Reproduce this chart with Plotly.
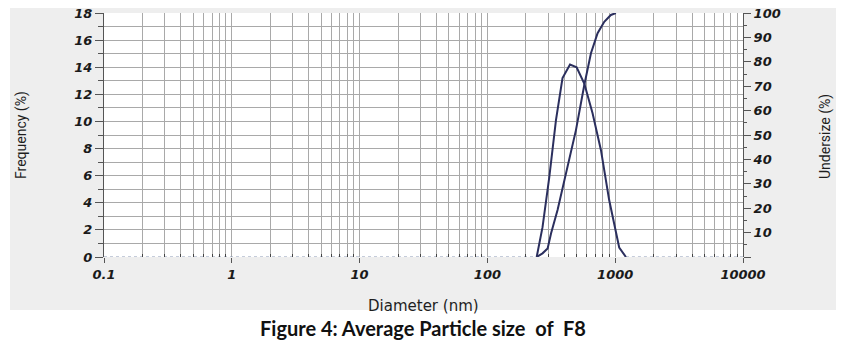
import plotly.graph_objects as go

# ---- data ----
freq_diam = [243, 270, 305, 344, 387, 443, 499, 573, 665, 773, 897, 1012, 1075, 1213]
freq_pct = [0, 2.2, 5.9, 10.1, 13.2, 14.2, 14.0, 12.8, 10.6, 7.9, 4.2, 1.8, 0.7, 0]

under_diam = [243, 270, 296, 315, 354, 412, 493, 573, 646, 728, 821, 925, 1012]
under_pct = [0, 1.5, 3.5, 9.7, 19.3, 34.3, 52.0, 70.5, 83.5, 91.7, 96.4, 99.2, 100]

base_left_x = [0.1, 243]
base_right_x = [1213, 10000]
base_y = [0, 0]

x_ticks = [0.1, 1, 10, 100, 1000, 10000]
x_labels = ["0.1", "1", "10", "100", "1000", "10000"]
y_ticks = list(range(0, 19, 2))
y2_ticks = list(range(0, 101, 10))
y2_labels = ["", "10", "20", "30", "40", "50", "60", "70", "80", "90", "100"]

# minor log positions (2..9 in each decade)
minor_x = [m * d for d in [0.1, 1, 10, 100, 1000] for m in range(2, 10)]

W, H = 844, 353
L, R, T, B = 104, 101, 13, 96
pw, ph = W - L - R, H - T - B

def px(xpix):
    return (xpix - L) / pw

def py(ypix):
    return (H - B - ypix) / ph

line_col = "#2b2f5e"
tick_font = dict(family="DejaVu Sans", size=13, color="#1a1a1a", weight="bold", style="italic")
grid_col = "#a9a9a9"

fig = go.Figure()
fig.add_trace(go.Scatter(x=base_left_x, y=base_y, mode="lines",
                         line=dict(color="#8c9ab5", width=1.2, dash="dot"),
                         hoverinfo="skip", showlegend=False))
fig.add_trace(go.Scatter(x=base_right_x, y=base_y, mode="lines",
                         line=dict(color="#8c9ab5", width=1.2, dash="dot"),
                         hoverinfo="skip", showlegend=False))
fig.add_trace(go.Scatter(x=freq_diam, y=freq_pct, mode="lines",
                         line=dict(color=line_col, width=2), name="Frequency",
                         showlegend=False))
fig.add_trace(go.Scatter(x=under_diam, y=under_pct, mode="lines", yaxis="y2",
                         line=dict(color=line_col, width=2), name="Undersize",
                         showlegend=False))

fig.update_layout(
    width=W, height=H, autosize=False,
    margin=dict(l=L, r=R, t=T, b=B, pad=0),
    paper_bgcolor="white", plot_bgcolor="white",
    xaxis=dict(type="log", range=[-1, 4], tickvals=x_ticks, ticktext=x_labels,
               tickfont=tick_font, showgrid=True, gridcolor=grid_col, gridwidth=1,
               ticks="outside", ticklen=5, tickcolor="#555555", automargin=False,
               showline=False, zeroline=False,
               minor=dict(tickvals=minor_x, showgrid=True, gridcolor=grid_col,
                          gridwidth=1, ticks="inside", ticklen=3, tickcolor="#444444")),
    yaxis=dict(range=[0, 18], tickvals=y_ticks, tickfont=tick_font, automargin=False,
               showgrid=True, gridcolor=grid_col, gridwidth=1,
               ticks="outside", ticklen=8, tickcolor="#555555",
               showline=True, linecolor="#555555", linewidth=1, zeroline=False,
               minor=dict(dtick=1, showgrid=True, gridcolor=grid_col,
                          ticks="outside", ticklen=5, tickcolor="#555555")),
    yaxis2=dict(range=[0, 100], overlaying="y", side="right", automargin=False,
                tickvals=y2_ticks, ticktext=y2_labels, tickfont=tick_font,
                showgrid=False, ticks="outside", ticklen=7, tickcolor="#555555",
                showline=True, linecolor="#555555", linewidth=1, zeroline=False,
                minor=dict(dtick=5, ticks="outside", ticklen=3, tickcolor="#555555")),
    shapes=[
        dict(type="rect", xref="paper", yref="paper", layer="below",
             x0=px(10), x1=px(836), y0=py(310), y1=py(8),
             fillcolor="#eeeeee", line=dict(width=0)),
        dict(type="rect", xref="paper", yref="paper", layer="below",
             x0=0, x1=1, y0=0, y1=1, fillcolor="white", line=dict(width=0)),
    ],
    annotations=[
        dict(text="Frequency (%)", xref="paper", yref="paper", x=px(21), y=py(135),
             xanchor="center", yanchor="middle", textangle=-90, showarrow=False,
             font=dict(family="Liberation Sans Narrow, Roboto, Arial", size=14, color="#1e1e1e")),
        dict(text="Undersize (%)", xref="paper", yref="paper", x=px(825), y=py(137),
             xanchor="center", yanchor="middle", textangle=-90, showarrow=False,
             font=dict(family="Liberation Sans Narrow, Roboto, Arial", size=14, color="#1e1e1e")),
        dict(text="Diameter (nm)", xref="paper", yref="paper", x=0.5, y=py(306),
             xanchor="center", yanchor="middle", showarrow=False,
             font=dict(family="DejaVu Sans", size=15, color="#1e1e1e")),
        dict(text="Figure 4: Average Particle size \u00a0of \u00a0F8", xref="paper", yref="paper",
             x=px(423), y=py(328), xanchor="center", yanchor="middle", showarrow=False,
             font=dict(family="Lato", size=20, color="#111111", weight="bold")),
    ],
)

fig.write_html("out.html")
